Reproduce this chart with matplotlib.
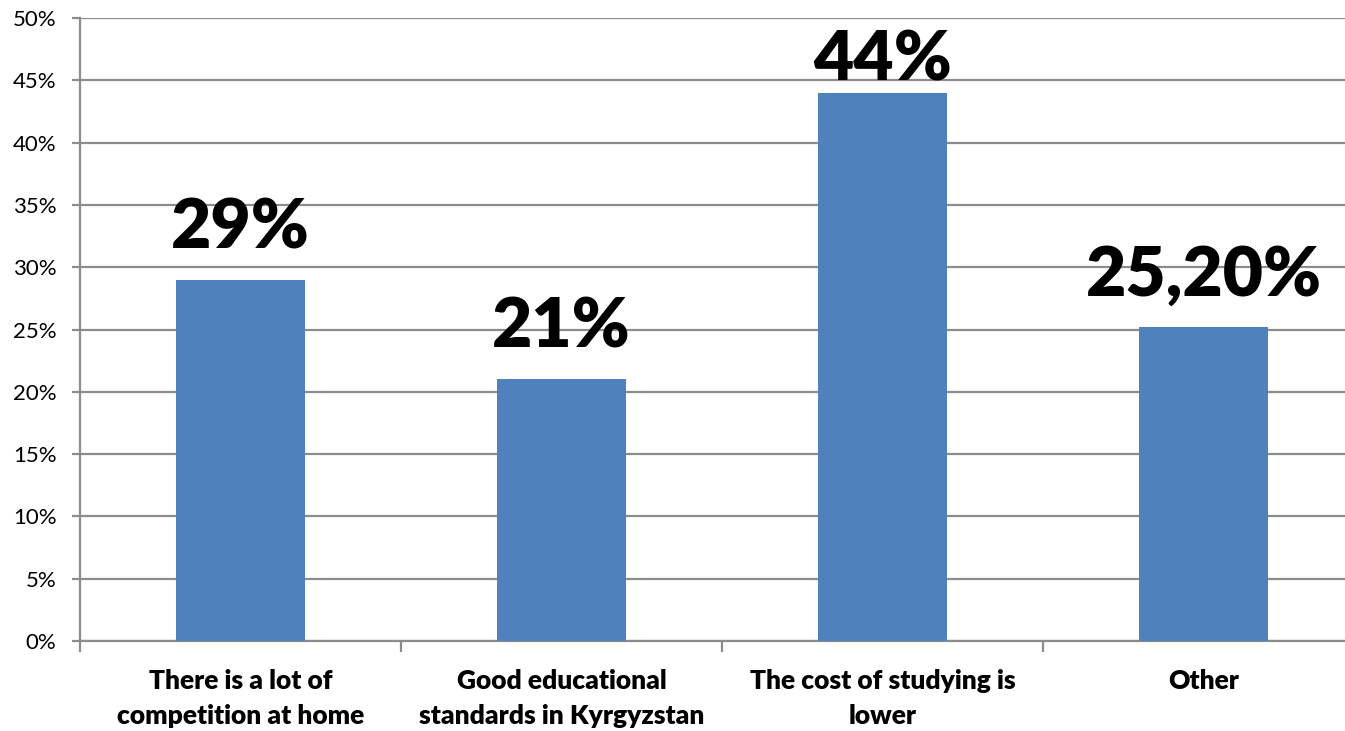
import matplotlib.pyplot as plt
import numpy as np

categories = ['There is a lot of\ncompetition at home',
              'Good educational\nstandards in Kyrgyzstan',
              'The cost of studying is\nlower',
              'Other']
values = [29, 21, 44, 25.2]
bar_labels = ['29%', '21%', '44%', '25,20%']

plt.rcParams['font.family'] = ['Lato', 'DejaVu Sans']

fig = plt.figure(figsize=(13.45, 7.31), dpi=100)
ax = fig.add_axes([80/1345, 1-641/731, 1284/1345, 623/731])

x = np.arange(len(categories))
ax.bar(x, values, width=0.4, color='#4F81BD', zorder=3)

ax.set_xlim(-0.5, len(categories)-0.5)
ax.set_ylim(0, 50)
ax.set_yticks(np.arange(0, 51, 5))
ax.set_yticklabels([f'{v}%' for v in range(0, 51, 5)], fontsize=16)
ax.yaxis.grid(True, color='#8c8c8c', linewidth=1.6, zorder=0)
ax.tick_params(axis='y', length=6, width=1.6, color='#8c8c8c', pad=11)

# category labels centered, tick marks at boundaries
ax.set_xticks(x)
ax.set_xticklabels(categories, fontsize=19, fontweight='heavy', linespacing=1.55)
ax.tick_params(axis='x', which='major', length=0, pad=20)
ax.set_xticks(np.arange(-0.5, len(categories), 1), minor=True)
ax.tick_params(axis='x', which='minor', length=8, width=1.6, color='#8c8c8c')

for s in ['top', 'right']:
    ax.spines[s].set_visible(False)
for s in ['left', 'bottom']:
    ax.spines[s].set_color('#8c8c8c')
    ax.spines[s].set_linewidth(1.6)

for xi, v, lab in zip(x, values, bar_labels):
    off = 0 if v > 40 else 14
    ax.annotate(lab, (xi, v), xytext=(0, off), textcoords='offset points',
                ha='center', va='bottom', fontsize=50, fontweight='heavy')

fig.savefig('out.png', dpi=100)
